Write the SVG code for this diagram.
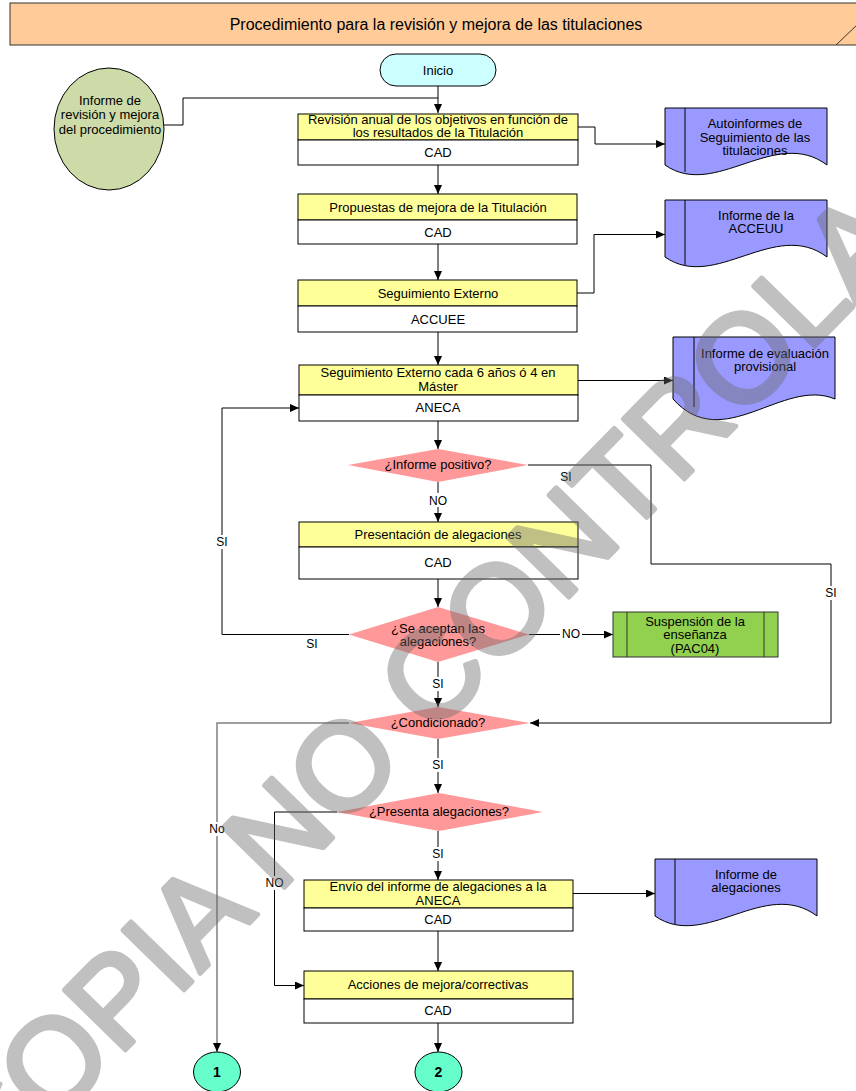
<svg xmlns="http://www.w3.org/2000/svg" width="856" height="1091" viewBox="0 0 856 1091">
<style>
text{font-family:"Liberation Sans",Arial,sans-serif;fill:#000;}
.t{font-size:13px;text-anchor:middle;}
.lb{font-size:12px;text-anchor:middle;}
.yb{fill:#ffff99;stroke:#000;stroke-width:1;}
.wb{fill:#fff;stroke:#000;stroke-width:1;}
.dm{fill:#ff9999;stroke:none;}
.doc{fill:#9999ff;stroke:#000;stroke-width:1;}
.cn{fill:none;stroke:#000;stroke-width:1;}
.bg{fill:#fff;stroke:none;}
</style>
<defs>
<marker id="ar" markerWidth="9" markerHeight="8" refX="9" refY="4" orient="auto" markerUnits="userSpaceOnUse"><path d="M0,0 L9,4 L0,8 z" fill="#000"/></marker>
<path id="docshape" d="M0,0 H162 V57 C110,18 50,92 0,57 Z"/>
</defs>
<rect x="0" y="0" width="856" height="1091" fill="#fff"/>

<g id="header">
<rect x="10" y="3" width="870" height="42" fill="#ffcc99" stroke="#333" stroke-width="1"/>
<line x1="836" y1="45" x2="858" y2="24" stroke="#333" stroke-width="1"/>
<text x="436" y="29.5" font-size="16" text-anchor="middle">Procedimiento para la revisión y mejora de las titulaciones</text>
</g>

<g id="connectors">
<path class="cn" d="M438,86 V113" marker-end="url(#ar)"/>
<path class="cn" d="M164,125 H183 V98 H438"/>
<path class="cn" d="M578,127 H595 V144 H665" marker-end="url(#ar)"/>
<path class="cn" d="M438,165 V194" marker-end="url(#ar)"/>
<path class="cn" d="M438,244 V280" marker-end="url(#ar)"/>
<path class="cn" d="M577,293 H594 V234.5 H665" marker-end="url(#ar)"/>
<path class="cn" d="M438,332 V365" marker-end="url(#ar)"/>
<path class="cn" d="M578,380.5 H673" marker-end="url(#ar)"/>
<path class="cn" d="M438,421 V449" marker-end="url(#ar)"/>
<path class="cn" d="M438,482 V522" marker-end="url(#ar)"/>
<path class="cn" d="M528,465 H651 V564 H831 V723 H530" marker-end="url(#ar)"/>
<path class="cn" d="M438,579 V607" marker-end="url(#ar)"/>
<path class="cn" d="M349,634.5 H222 V408 H299" marker-end="url(#ar)"/>
<path class="cn" d="M529,634.5 H613" marker-end="url(#ar)"/>
<path class="cn" d="M438,662 V707" marker-end="url(#ar)"/>
<path fill="none" stroke="#808080" stroke-width="1.5" d="M349,723 H217 V1052" marker-end="url(#ar)"/>
<path class="cn" d="M438,739 V793" marker-end="url(#ar)"/>
<path class="cn" d="M337,812 H274.5 V985.5 H304" marker-end="url(#ar)"/>
<path class="cn" d="M438,831 V880" marker-end="url(#ar)"/>
<path class="cn" d="M573,893.5 H655" marker-end="url(#ar)"/>
<path class="cn" d="M438,931 V971" marker-end="url(#ar)"/>
<path class="cn" d="M438,1023 V1052" marker-end="url(#ar)"/>
<rect class="bg" x="428" y="493" width="20" height="14"/>
<text class="lb" x="438" y="504.5">NO</text>
<text class="lb" x="566" y="481">SI</text>
<rect class="bg" x="823" y="586" width="16" height="14"/>
<text class="lb" x="831" y="597">SI</text>
<rect class="bg" x="214" y="535" width="16" height="14"/>
<text class="lb" x="222" y="546">SI</text>
<text class="lb" x="312" y="648">SI</text>
<rect class="bg" x="560" y="627" width="22" height="14"/>
<text class="lb" x="571" y="638">NO</text>
<rect class="bg" x="430" y="677" width="16" height="14"/>
<text class="lb" x="438" y="688">SI</text>
<rect class="bg" x="430" y="758" width="16" height="14"/>
<text class="lb" x="438" y="769">SI</text>
<rect class="bg" x="430" y="847" width="16" height="14"/>
<text class="lb" x="438" y="858">SI</text>
<rect class="bg" x="207" y="822" width="20" height="14"/>
<text class="lb" x="217" y="833">No</text>
<rect class="bg" x="264" y="876" width="22" height="14"/>
<text class="lb" x="274.5" y="887">NO</text>
</g>

<g id="inicio">
<rect x="380" y="54" width="116" height="32" rx="16" ry="16" fill="#ccffff" stroke="#000"/>
<text class="t" x="438" y="74.5">Inicio</text>
</g>

<g id="informe-revision">
<ellipse cx="109" cy="129" rx="55" ry="61" fill="#cddba8" stroke="#000"/>
<text class="t" x="110" y="104.5">Informe de</text>
<text class="t" x="110" y="119">revisión y mejora</text>
<text class="t" x="110" y="133.5">del procedimiento</text>
</g>

<g id="revision-anual">
<rect class="yb" x="298" y="114" width="280" height="26"/>
<rect class="wb" x="298" y="140" width="280" height="25"/>
<text class="t" x="438" y="124">Revisión anual de los objetivos en función de</text>
<text class="t" x="438" y="137">los resultados de la Titulación</text>
<text class="t" x="438" y="157">CAD</text>
</g>

<g id="propuestas">
<rect class="yb" x="298" y="194" width="279" height="26"/>
<rect class="wb" x="298" y="220" width="279" height="24"/>
<text class="t" x="438" y="211.5">Propuestas de mejora de la Titulación</text>
<text class="t" x="438" y="236.5">CAD</text>
</g>

<g id="seguimiento">
<rect class="yb" x="298" y="280" width="279" height="26"/>
<rect class="wb" x="298" y="306" width="279" height="26"/>
<text class="t" x="438" y="297.5">Seguimiento Externo</text>
<text class="t" x="438" y="323.5">ACCUEE</text>
</g>

<g id="seguimiento-aneca">
<rect class="yb" x="299" y="365" width="279" height="30"/>
<rect class="wb" x="299" y="395" width="279" height="26"/>
<text class="t" x="438" y="377">Seguimiento Externo cada 6 años ó 4 en</text>
<text class="t" x="438" y="390.5">Máster</text>
<text class="t" x="438" y="412">ANECA</text>
</g>

<g id="doc-autoinformes">
<use href="#docshape" class="doc" transform="translate(665,108)"/>
<line x1="685" y1="108" x2="685" y2="172" stroke="#000"/>
<text class="t" x="755" y="127.5">Autoinformes de</text>
<text class="t" x="755" y="141.5">Seguimiento de las</text>
<text class="t" x="755" y="155">titulaciones</text>
</g>

<g id="doc-acceuu">
<use href="#docshape" class="doc" transform="translate(665,200)"/>
<line x1="685" y1="200" x2="685" y2="265" stroke="#000"/>
<text class="t" x="756" y="219.5">Informe de la</text>
<text class="t" x="756" y="232.5">ACCEUU</text>
</g>

<g id="doc-evaluacion">
<path class="doc" d="M673,337 H835 V399 C783,377 723,455 673,399 Z"/>
<line x1="694" y1="337" x2="694" y2="407" stroke="#000"/>
<text class="t" x="765" y="357.5">Informe de evaluación</text>
<text class="t" x="765" y="370.5">provisional</text>
</g>

<g id="informe-positivo">
<polygon class="dm" points="348,465 438,449 528,465 438,482"/>
<text class="t" x="438" y="469">¿Informe positivo?</text>
</g>

<g id="presentacion">
<rect class="yb" x="299" y="522" width="279" height="25"/>
<rect class="wb" x="299" y="547" width="279" height="32"/>
<text class="t" x="438" y="538.5">Presentación de alegaciones</text>
<text class="t" x="438" y="567">CAD</text>
</g>

<g id="se-aceptan">
<polygon class="dm" points="349,634.5 438,607 529,634.5 438,662"/>
<text class="t" x="438" y="632.5">¿Se aceptan las</text>
<text class="t" x="438" y="645.5">alegaciones?</text>
</g>

<g id="suspension">
<rect x="613" y="612" width="165" height="45" fill="#92d050" stroke="#333"/>
<line x1="627" y1="612" x2="627" y2="657" stroke="#333"/>
<line x1="764" y1="612" x2="764" y2="657" stroke="#333"/>
<text class="t" x="695" y="625.5">Suspensión de la</text>
<text class="t" x="695" y="639">enseñanza</text>
<text class="t" x="695" y="652.5">(PAC04)</text>
</g>

<g id="condicionado">
<polygon class="dm" points="349,723 438,707 530,723 438,739"/>
<text class="t" x="438" y="727">¿Condicionado?</text>
</g>

<g id="presenta">
<polygon class="dm" points="337,812 439,793 543,812 439,831"/>
<text class="t" x="439" y="816">¿Presenta alegaciones?</text>
</g>

<g id="envio">
<rect class="yb" x="304" y="880" width="269" height="28"/>
<rect class="wb" x="304" y="908" width="269" height="23"/>
<text class="t" x="438" y="891">Envío del informe de alegaciones a la</text>
<text class="t" x="438" y="904.5">ANECA</text>
<text class="t" x="438" y="924">CAD</text>
</g>

<g id="doc-alegaciones">
<use href="#docshape" class="doc" transform="translate(655,859)"/>
<line x1="675" y1="859" x2="675" y2="924" stroke="#000"/>
<text class="t" x="746" y="878.5">Informe de</text>
<text class="t" x="746" y="892">alegaciones</text>
</g>

<g id="acciones">
<rect class="yb" x="304" y="971" width="269" height="28"/>
<rect class="wb" x="304" y="999" width="269" height="24"/>
<text class="t" x="438" y="988.5">Acciones de mejora/correctivas</text>
<text class="t" x="438" y="1015">CAD</text>
</g>

<g id="conector-1">
<ellipse cx="217" cy="1072" rx="23.5" ry="20" fill="#66ffcc" stroke="#000"/>
<text x="217" y="1077" font-size="14" font-weight="bold" text-anchor="middle">1</text>
</g>

<g id="conector-2">
<ellipse cx="438.5" cy="1072" rx="23.5" ry="20" fill="#66ffcc" stroke="#000"/>
<text x="438.5" y="1077" font-size="14" font-weight="bold" text-anchor="middle">2</text>
</g>

<g id="watermark" opacity="0.42">
<text transform="translate(-12,1190) rotate(-45.6)" x="0" y="0" font-size="124" style="fill:#6a6a6a;stroke:#6a6a6a;stroke-width:5;stroke-linejoin:round">COPIA NO CONTROLADA</text>
</g>
</svg>
